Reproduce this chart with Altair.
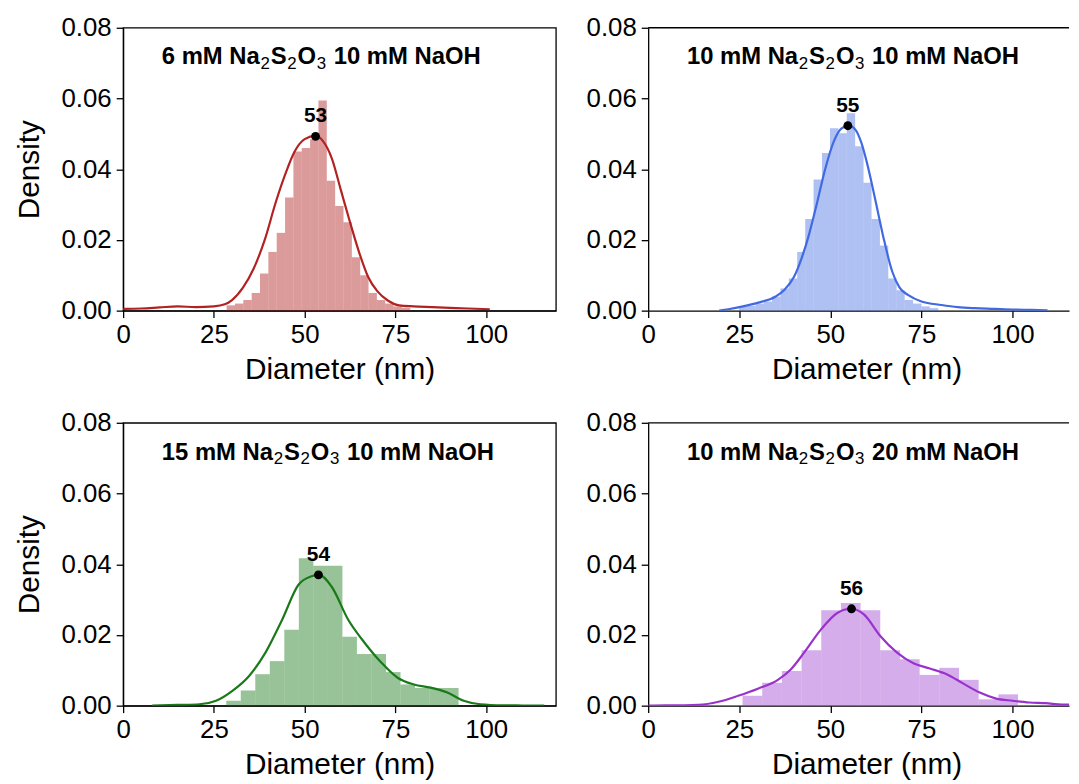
import altair as alt
import pandas as pd

# ---------------- data ----------------
# panel titles: bold prefix, chemical formula (with subscripts), bold suffix
title_prefix = ["6 mM ", "10 mM ", "15 mM ", "10 mM "]
title_suffix = [" 10 mM NaOH", " 10 mM NaOH", " 10 mM NaOH", " 20 mM NaOH"]
formula = [("Na", False), ("2", True), ("S", False), ("2", True), ("O", False), ("3", True)]

line_colors = ["#b22222", "#4169e1", "#1a7a1a", "#9932cc"]
bar_opacity = [0.45, 0.42, 0.45, 0.4]

# histogram bin edges and densities
edges1 = [28.5, 30.8, 33.1, 35.4, 37.7, 40.0, 42.3, 44.6, 46.9, 49.2, 51.5, 53.8,
          56.1, 58.4, 60.7, 63.0, 65.3, 67.6, 69.9, 72.2, 74.5, 76.8, 79.1]
heights1 = [0.0015, 0.002, 0.003, 0.005, 0.0105, 0.0166, 0.022, 0.032, 0.045, 0.046,
            0.0485, 0.0594, 0.0367, 0.0296, 0.025, 0.0151, 0.010, 0.005, 0.003, 0.002,
            0.0012, 0.0008]

edges2 = [24.9, 27.2, 29.5, 31.8, 34.0, 36.3, 38.6, 40.9, 43.1, 45.4, 47.7, 49.9, 52.2,
          54.5, 56.8, 59.1, 61.3, 63.6, 65.9, 68.2, 70.4, 72.7, 75.0, 77.3, 79.6]
heights2 = [0.0012, 0.0014, 0.002, 0.0026, 0.004, 0.0063, 0.0091, 0.0166, 0.0259, 0.0371,
            0.0446, 0.0516, 0.0502, 0.0558, 0.0465, 0.0362, 0.0259, 0.0184, 0.0091, 0.0058,
            0.003, 0.002, 0.0012, 0.0007]

edges3 = [28.4, 32.4, 36.4, 40.4, 44.4, 48.4, 52.4, 56.4, 60.4, 64.4, 68.4, 72.4, 76.4,
          80.4, 84.4, 88.4, 92.4]
heights3 = [0.0014, 0.0043, 0.0089, 0.0126, 0.0215, 0.0417, 0.0396, 0.0396, 0.0195, 0.0146,
            0.0146, 0.0095, 0.006, 0.005, 0.005, 0.005]

edges4 = [25.9, 31.3, 36.7, 42.1, 47.5, 52.9, 58.3, 63.7, 69.1, 74.5, 79.9, 85.3, 90.7,
          96.1, 101.5]
heights4 = [0.0028, 0.0065, 0.0098, 0.0157, 0.027, 0.029, 0.027, 0.0157, 0.0131, 0.0087,
            0.0107, 0.0073, 0.0018, 0.0032]

# KDE curves
kde1_x = [0, 5, 10, 15, 20, 25, 28, 30, 33, 36, 39, 42, 45, 47, 50, 53, 55, 57.5, 60,
          62.5, 65, 67.5, 70, 73, 76, 80, 85, 90, 95, 101]
kde1_y = [0.0005, 0.0006, 0.0009, 0.0012, 0.001, 0.0012, 0.0018, 0.003, 0.0065, 0.012,
          0.020, 0.0305, 0.0395, 0.0445, 0.0485, 0.0494, 0.048, 0.043, 0.034, 0.025, 0.0165,
          0.0095, 0.0055, 0.0028, 0.0015, 0.0012, 0.001, 0.0008, 0.0006, 0.0004]

kde2_x = [19.5, 22, 26, 30, 35, 37.5, 40, 42, 44, 46, 48.7, 51, 53, 55, 57, 58.5, 60,
          62.3, 64.5, 67, 69, 71.4, 75, 80.5, 85, 89.6, 95, 100, 105, 109.6]
kde2_y = [0.0, 0.0004, 0.0012, 0.0022, 0.004, 0.006, 0.0095, 0.0145, 0.021, 0.029, 0.0405,
          0.048, 0.0515, 0.0523, 0.051, 0.0475, 0.042, 0.0315, 0.021, 0.011, 0.0065, 0.0044,
          0.0026, 0.0016, 0.001, 0.0007, 0.0005, 0.0003, 0.0002, 0.0001]

kde3_x = [8, 15, 21, 25.6, 30.1, 34.7, 39.2, 43.8, 48.3, 51.9, 54, 57.4, 62, 66.5, 71.1,
          75.6, 80.1, 84.7, 89.3, 93.8, 98.4, 105, 110, 116]
kde3_y = [0.0, 0.0002, 0.0004, 0.0014, 0.0042, 0.0084, 0.015, 0.0243, 0.0342, 0.0366,
          0.037, 0.0337, 0.0243, 0.0178, 0.0122, 0.0079, 0.006, 0.0051, 0.0037, 0.0014,
          0.0004, 0.0001, 0.00005, 0.0]

kde4_x = [0, 5, 10, 13.8, 19.3, 24.7, 30.1, 35.6, 39.2, 42.8, 47.4, 51.9, 55.7, 59.2, 63.7,
          68.3, 72.8, 77.3, 81.9, 86.4, 91.0, 95.5, 100.0, 104.6, 109.1, 113.7, 115.5]
kde4_y = [0.0, 0.0001, 0.0001, 0.0002, 0.0011, 0.0028, 0.0048, 0.0073, 0.0103, 0.015,
          0.0215, 0.0262, 0.0274, 0.0258, 0.0197, 0.015, 0.012, 0.0105, 0.0089, 0.0063,
          0.0037, 0.002, 0.0014, 0.0009, 0.0007, 0.0003, 0.0003]

peak_x = [53.0, 54.8, 53.8, 55.8]
peak_y = [0.0493, 0.0523, 0.037, 0.0274]
peak_labels = ["53", "55", "54", "56"]

x_ticks = [0, 25, 50, 75, 100]
y_ticks = [0.0, 0.02, 0.04, 0.06, 0.08]

all_edges = [edges1, edges2, edges3, edges4]
all_heights = [heights1, heights2, heights3, heights4]
all_kx = [kde1_x, kde2_x, kde3_x, kde4_x]
all_ky = [kde1_y, kde2_y, kde3_y, kde4_y]

FONT = "Liberation Sans"
LEFT_W, RIGHT_W, H = 436, 424, 285
LEFT_XMAX, RIGHT_XMAX = 119.2, 115.5

# Arial-compatible advance widths (em) used to lay the title pieces side by side
W_REG = {"0": .556, "1": .556, "2": .556, "3": .556, "5": .556, "6": .556, " ": .278,
         "m": .833, "M": .833, "N": .722, "a": .556, "O": .778, "H": .722, "S": .667}
W_BOLD = dict(W_REG, m=.889)
T_SIZE, SUB_SIZE, SUB_DROP = 24, 17, 5
T_X0, T_Y = 39, 37


def text_width(s, size, bold):
    tbl = W_BOLD if bold else W_REG
    return sum(tbl[c] for c in s) * size


def title_layers(i):
    pieces = [(title_prefix[i], True, T_SIZE, 0, 0.0)]
    for txt, sub in formula:
        if sub:
            pieces.append((txt, False, SUB_SIZE, SUB_DROP, 1.0))
        else:
            pieces.append((txt, True, T_SIZE, 0, 0.6))
    pieces.append((title_suffix[i], True, T_SIZE, 0, 0.0))
    layers = []
    x = T_X0
    for txt, bold, size, drop, gap in pieces:
        lead = len(txt) - len(txt.lstrip(" "))
        core = txt.strip(" ")
        trail = len(txt) - lead - len(core)
        x += lead * W_BOLD[" "] * size
        layers.append(
            alt.Chart(pd.DataFrame({"t": [core]})).mark_text(
                font=FONT, fontSize=size, fontWeight="bold" if bold else "normal",
                color="black", align="left", baseline="alphabetic",
            ).encode(x=alt.value(x), y=alt.value(T_Y + drop), text="t:N")
        )
        x += text_width(core, size, bold) + trail * W_BOLD[" "] * size + gap
    return layers


def panel(i, left):
    w = LEFT_W if left else RIGHT_W
    xmax = LEFT_XMAX if left else RIGHT_XMAX
    col = line_colors[i]
    e = all_edges[i]
    hist_df = pd.DataFrame({"x0": e[:-1], "x1": e[1:], "h": all_heights[i]})
    kde_df = pd.DataFrame({"x": all_kx[i], "y": all_ky[i]})
    peak_df = pd.DataFrame({"x": [peak_x[i]], "y": [peak_y[i]], "lab": [peak_labels[i]]})

    xscale = alt.Scale(domain=[0, xmax], nice=False, zero=False)
    yscale = alt.Scale(domain=[0, 0.08], nice=False)
    xaxis_kw = dict(values=x_ticks, title="Diameter (nm)", labelFlush=False,
                    labelPadding=4, titlePadding=7, labelOverlap=False)
    if not left:
        xaxis_kw["titleX"] = 220
    xaxis = alt.Axis(**xaxis_kw)
    yaxis_kw = dict(values=y_ticks, format=".2f", labelFlush=False, labelPadding=5,
                    labelOverlap=False)
    if left:
        yaxis_kw["title"] = "Density"
        yaxis_kw["titlePadding"] = 17
    else:
        yaxis_kw["title"] = ""
    yaxis = alt.Axis(**yaxis_kw)

    bars = alt.Chart(hist_df).mark_rect(color=col, opacity=bar_opacity[i]).encode(
        x=alt.X("x0:Q", scale=xscale, axis=xaxis),
        x2="x1:Q",
        y=alt.Y("h:Q", scale=yscale, axis=yaxis),
        y2=alt.datum(0),
    )
    line = alt.Chart(kde_df).mark_line(color=col, strokeWidth=2.2, clip=True,
                                       interpolate="monotone").encode(
        x=alt.X("x:Q", scale=xscale),
        y=alt.Y("y:Q", scale=yscale),
    )
    dot = alt.Chart(peak_df).mark_circle(color="black", opacity=1, size=80).encode(
        x=alt.X("x:Q", scale=xscale),
        y=alt.Y("y:Q", scale=yscale),
    )
    lab = alt.Chart(peak_df).mark_text(
        font=FONT, fontSize=21, fontWeight="bold", color="black",
        baseline="alphabetic", align="center", dy=-14,
    ).encode(
        x=alt.X("x:Q", scale=xscale),
        y=alt.Y("y:Q", scale=yscale),
        text="lab:N",
    )

    layers = [bars, line, dot, lab] + title_layers(i)
    if not left:
        top = alt.Chart(pd.DataFrame({"a": [0]})).mark_rule(color="black", strokeWidth=1.3).encode(
            x=alt.value(0), x2=alt.value(w), y=alt.value(0)
        )
        layers.append(top)
    ch = alt.layer(*layers).properties(width=w, height=H)
    if not left:
        ch = ch.properties(view=alt.ViewBackground(stroke="transparent"))
    return ch


row1 = alt.hconcat(panel(0, True), panel(1, False), spacing=28)
row2 = alt.hconcat(panel(2, True), panel(3, False), spacing=28)

chart = alt.vconcat(row1, row2, spacing=24).properties(
    padding={"left": 5, "top": 3, "right": 0, "bottom": 0}
).configure_view(
    stroke="black", strokeWidth=1.3
).configure_axis(
    domainColor="black", domainWidth=1.3, tickColor="black", tickWidth=1.3, tickSize=7,
    labelColor="black", titleColor="black", labelFont=FONT, titleFont=FONT,
    labelFontSize=26, titleFontSize=30, titleFontWeight="normal", grid=False,
)

chart.save("out.html", embed_options={"renderer": "svg", "actions": False})
